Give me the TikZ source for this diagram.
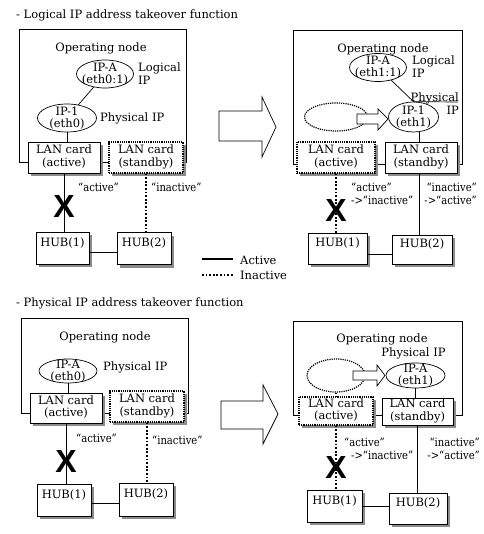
\documentclass[tikz,border=0pt]{standalone}
\usepackage{fontspec}
\setmainfont{DejaVu Serif}
\newfontfamily\statefont{DejaVu Serif}[FakeStretch=0.87]
\newfontfamily\xfont{Liberation Sans}
\usepackage{tikz}
\usetikzlibrary{shapes.geometric, shadows}
\newcommand{\cardtext}[1]{\begin{tabular}{@{}c@{}}LAN card\\(#1)\end{tabular}}
\renewcommand{\arraystretch}{0.92}
\tikzset{
	boxshadow/.style={drop shadow={shadow xshift=3pt, shadow yshift=-3pt, fill=black!45, opacity=1}},
	opbox/.style={draw, line width=0.7pt, inner sep=0pt},
	card/.style={draw, fill=white, line width=0.7pt, boxshadow, minimum height=31pt, inner xsep=3pt, inner ysep=1pt, align=center},
	cardoff/.style={card, line width=1.2pt, densely dotted},
	hub/.style={draw, fill=white, line width=0.7pt, boxshadow, minimum width=54pt, minimum height=32pt, text height=8pt, text depth=12pt},
	ip/.style={ellipse, draw, fill=white, line width=0.7pt, inner sep=-10pt, minimum width=57pt, minimum height=28pt, align=center, font=\fontsize{11.5}{12}\selectfont},
	ipoff/.style={ip, line width=1.2pt, densely dotted},
	link/.style={line width=0.7pt},
	linkoff/.style={line width=1.8pt, dash pattern=on 1.8pt off 1.8pt},
	cutmark/.style={font=\xfont\bfseries\fontsize{32}{32}\selectfont, inner sep=0pt},
	tag/.style={inner sep=1pt, align=left},
	state/.style={tag, font=\statefont\fontsize{11.5}{13}\selectfont},
	movebox/.style={draw, fill=white, line width=0.7pt},
}

\begin{document}
\begin{tikzpicture}[x=1pt, y=-1pt, font=\fontsize{11.5}{13}\selectfont]
	\fill[white] (0,0) rectangle (483,534);
	\useasboundingbox (0,0) rectangle (483,534);

	% logical IP takeover, before
	\node[tag, anchor=west] (title1) at (15,15) {- Logical IP address takeover function};
	\node[opbox, minimum width=167pt, minimum height=133pt] (os1) at (102.5,95.5) {};
	\node (osname1) at (101,48) {Operating node};
	\node[ip] (ipA1) at (105,74) {IP-A\\(eth0:1)};
	\node[tag, anchor=west] (lgA1) at (137,74) {Logical\\IP};
	\node[ip, minimum width=59pt] (ip11) at (67,118) {IP-1\\(eth0)};
	\node[tag, anchor=west] (ph11) at (99,118) {Physical IP};
	\node[card, minimum width=72pt] (lanA1) at (64,157.5) {\cardtext{active}};
	\node[cardoff, minimum width=74pt] (lanS1) at (146,157.5) {\cardtext{standby}};
	\node[hub, minimum width=53pt] (hubA1) at (62.5,248) {HUB(1)};
	\node[hub] (hubB1) at (144,248.5) {HUB(2)};
	\draw[link] (ipA1) -- (ip11);
	\draw[link] (ip11.south) -- (ip11.south |- lanA1.north);
	\draw[link] (lanA1.south) -- (lanA1.south |- hubA1.north) node[cutmark, pos=0.56] (cut1) {X};
	\node[state, anchor=west] (st1) at (77,187) {“active”};
	\draw[linkoff] (lanS1.south) -- (lanS1.south |- hubB1.north);
	\node[state, anchor=west] (sb1) at (150,187) {“inactive”};
	\draw[link] (hubA1.-10) -- (hubA1.-10 -| hubB1.west);
	\draw[line width=1.8pt] (202,259) -- (233,259);
	\node[tag, anchor=west] (key1) at (239,260) {Active};
	\draw[linkoff] (202,275) -- (233,275);
	\node[tag, anchor=west] (key2) at (239,275) {Inactive};
	\draw[movebox] (219,111) -- (262,111) -- (262,97) -- (276,127) -- (262,157) -- (262,141) -- (219,141) -- cycle;

	% logical IP takeover, after
	\node[opbox, minimum width=169pt, minimum height=134pt] (os2) at (377.5,97) {};
	\node (osname2) at (383,49) {Operating node};
	\node[ip] (ipA2) at (378,67.5) {IP-A\\(eth1:1)};
	\node[tag, anchor=west] (lgA2) at (411,67) {Logical\\IP};
	\node[ipoff, minimum width=63pt] (ghost2) at (336,117) {};
	\node[ip, minimum width=50pt, minimum height=30pt] (ip12) at (413.5,117) {IP-1\\(eth1)};
	\coordinate (phy2) at (458,102);
	\node[tag, anchor=east, align=right] (ph12) at (460,104) {Physical\\IP};
	\draw[movebox] (357,114) -- (378,114) -- (378,109) -- (388,119) -- (378,130) -- (378,124) -- (357,124) -- cycle;
	\draw[link] (ipA2) -- (ip12.north) -- (phy2);
	\node[cardoff, minimum width=78pt] (lanA2) at (336,157.5) {\cardtext{active}};
	\node[card, minimum width=72pt] (lanS2) at (421,157.5) {\cardtext{standby}};
	\node[hub, minimum width=59pt, minimum height=31pt] (hubA2) at (337.5,248.5) {HUB(1)};
	\node[hub, minimum width=60pt, minimum height=29pt] (hubB2) at (422,249.5) {HUB(2)};
	\draw[link] (ip12.-70) -- (ip12.-70 |- lanS2.north);
	\draw[linkoff] (lanA2.south) -- (lanA2.south |- hubA2.north) node[cutmark, pos=0.63] (cut2) {X};
	\node[state, anchor=west] (st2) at (350,194) {“active”\\->“inactive”};
	\draw[link] (ip12.-70 |- lanS2.south) -- (ip12.-70 |- hubB2.north);
	\node[state, anchor=east, align=right] (sb2) at (478,194) {“inactive”\\->“active”};
	\draw[link] (hubA2.-12) -- (hubA2.-12 -| hubB2.west);

	% physical IP takeover, before
	\node[tag, anchor=west] (title2) at (15,303) {- Physical IP address takeover function};
	\node[opbox, minimum width=167pt, minimum height=95pt] (os3) at (104.5,365.5) {};
	\node (osname3) at (105,337) {Operating node};
	\node[ip, minimum width=58pt, minimum height=24pt] (ipA3) at (68,371) {IP-A\\(eth0)};
	\node[tag, anchor=west] (ph13) at (102,367) {Physical IP};
	\node[card, minimum width=72pt, minimum height=30pt] (lanA3) at (66,408) {\cardtext{active}};
	\node[cardoff, minimum width=74pt] (lanS3) at (147,406.5) {\cardtext{standby}};
	\node[hub] (hubA3) at (64,500) {HUB(1)};
	\node[hub, minimum height=33pt] (hubB3) at (146,499.5) {HUB(2)};
	\draw[link] (ipA3.south) -- (ipA3.south |- lanA3.north);
	\draw[link] (lanA3.south) -- (lanA3.south |- hubA3.north) node[cutmark, pos=0.64] (cut3) {X};
	\node[state, anchor=west] (st3) at (75,438) {“active”};
	\draw[linkoff] (lanS3.south) -- (lanS3.south |- hubB3.north);
	\node[state, anchor=west] (sb3) at (151,440) {“inactive”};
	\draw[link] (hubA3.-8) -- (hubA3.-8 -| hubB3.west);
	\draw[movebox] (221,401) -- (263,401) -- (263,385) -- (278,414) -- (263,444) -- (263,429) -- (221,429) -- cycle;

	% physical IP takeover, after
	\node[opbox, minimum width=169pt, minimum height=94pt] (os4) at (377.5,368) {};
	\node (osname4) at (382,339) {Operating node};
	\node (ph14) at (413.5,353) {Physical IP};
	\node[ipoff, minimum width=58pt, minimum height=33pt] (ghost4) at (336,375.5) {};
	\node[ip, minimum width=59pt, minimum height=25pt] (ipA4) at (415.5,375.5) {IP-A\\(eth1)};
	\draw[movebox] (353,371) -- (377,371) -- (377,365) -- (385,375.5) -- (377,386) -- (377,380) -- (353,380) -- cycle;
	\node[cardoff, minimum width=74pt, minimum height=28pt] (lanA4) at (336,411) {\cardtext{active}};
	\node[card, minimum width=71pt, minimum height=27pt] (lanS4) at (417.5,411.5) {\cardtext{standby}};
	\draw[linkoff] (ghost4.south) -- (ghost4.south |- lanA4.north);
	\draw[link] (ipA4.south) -- (ipA4.south |- lanS4.north);
	\node[hub, minimum width=55pt] (hubA4) at (334.5,506) {HUB(1)};
	\node[hub, minimum width=58pt, minimum height=31pt] (hubB4) at (418,508.5) {HUB(2)};
	\draw[linkoff] (lanA4.south) -- (lanA4.south |- hubA4.north) node[cutmark, pos=0.65] (cut4) {X};
	\node[state, anchor=west] (st4) at (343,449) {“active”\\\hspace{7pt}->“inactive”};
	\draw[link] (lanS4.south) -- (lanS4.south |- hubB4.north);
	\node[state, anchor=east, align=right] (sb4) at (481,449) {“inactive”\\->“active”};
	\draw[link] (hubA4.east) -- (hubA4.east -| hubB4.west);
\end{tikzpicture}
\end{document}
